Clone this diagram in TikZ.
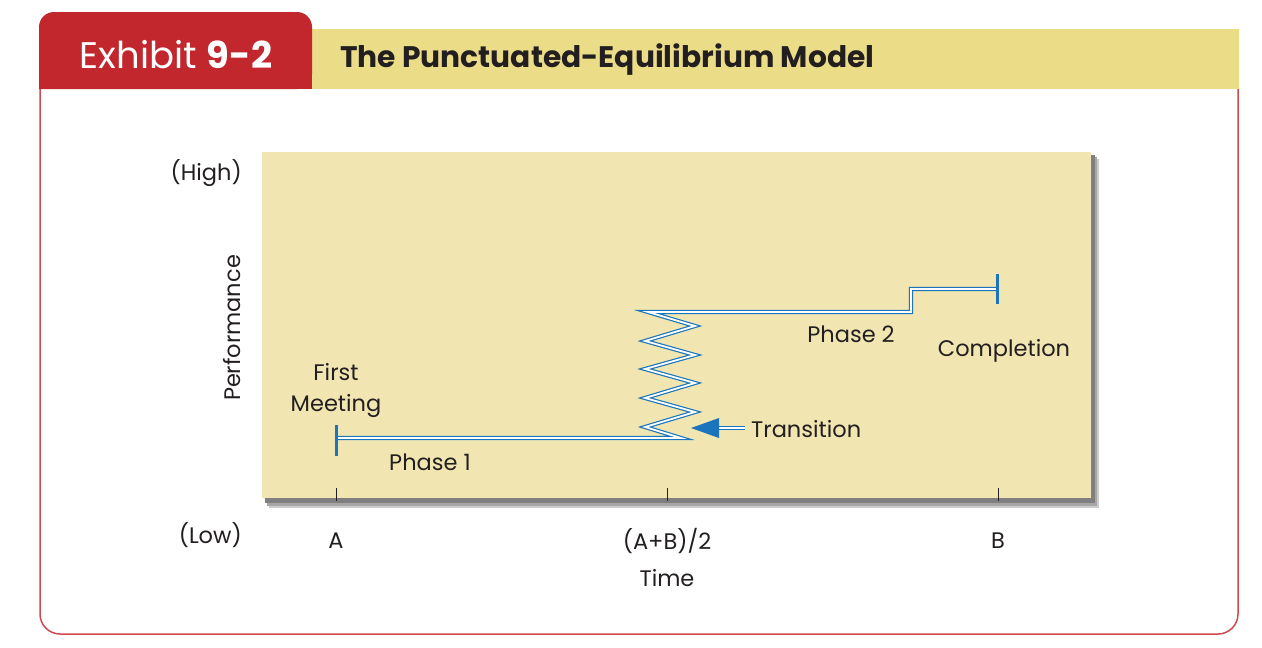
\documentclass[tikz,border=0pt]{standalone}
\usepackage{fontspec}
\setmainfont{Poppins}
\definecolor{tabred}{HTML}{C1272D}
\definecolor{framered}{HTML}{CF4A50}
\definecolor{headyel}{HTML}{EBDC87}
\definecolor{plotyel}{HTML}{F1E6B2}
\definecolor{lineblue}{HTML}{1B75BC}
\definecolor{ink}{HTML}{231F20}
\tikzset{
  lbl/.style={text=ink, font=\fontsize{22.5}{26}\selectfont, inner sep=0pt},
  dbl/.style={draw=lineblue, double=white, line width=1.2pt, double distance=1.8pt},
  endbar/.style={draw=lineblue, line width=3pt},
  tick/.style={draw=ink, line width=1pt}
}
\begin{document}
\begin{tikzpicture}[x=1pt,y=-1pt]
\useasboundingbox (0,0) rectangle (1262,648);
% frame
\draw[framered, line width=1.5pt, rounded corners=20pt] (40,80) -- (40,634) -- (1238,634) -- (1238,80);
% header
\fill[headyel] (312,29) rectangle (1239,89);
\fill[tabred, rounded corners=15pt] (39,89) -- (39,12) -- (312,12) -- (312,89) [sharp corners] -- cycle;
\fill[tabred] (39,70) rectangle (312,89);
\node[text=white, font=\fontsize{37}{40}\selectfont, inner sep=0pt] (exh) at (176,55) {Exhibit \textbf{9-2}};
\node[text=ink, font=\bfseries\fontsize{29.7}{32}\selectfont, inner sep=0pt, anchor=west] (title) at (340,60) {The Punctuated-Equilibrium Model};
% plot area with shadow
\fill[black!20] (269,159) rectangle (1099,508);
\fill[black!35] (267,157) rectangle (1097,506);
\fill[black!50] (265,155) rectangle (1095,503);
\fill[plotyel] (262,152) rectangle (1091,498);
% ticks
\foreach \x/\n in {336/ta,667/tm,998/tb}{
  \coordinate (\n top) at (\x,488);
  \coordinate (\n bot) at (\x,501);
  \draw[tick] (\n top) -- (\n bot);
}
% axis labels
\node[lbl, anchor=east] (high) at (242,173) {(High)};
\node[lbl, anchor=east] (low) at (242,535) {(Low)};
\node[lbl, rotate=90] (perf) at (232,328) {Performance};
\node[lbl] (la) at (336,541) {A};
\node[lbl] (lm) at (667,541) {(A+B)/2};
\node[lbl] (lb) at (998,541) {B};
\node[lbl] (time) at (667,578) {Time};
% curve
\coordinate (p0) at (337,438);
\coordinate (p1) at (681,438);
\coordinate (z1) at (645,427);
\coordinate (z2) at (695,412);
\coordinate (z3) at (645,398);
\coordinate (z4) at (695,383);
\coordinate (z5) at (645,369);
\coordinate (z6) at (695,355);
\coordinate (z7) at (645,341);
\coordinate (z8) at (695,326);
\coordinate (z9) at (648,312);
\coordinate (s1) at (911,312);
\coordinate (s2) at (911,289);
\coordinate (p2) at (997,289);
\draw[dbl] (p0) -- (p1) -- (z1) -- (z2) -- (z3) -- (z4) -- (z5) -- (z6) -- (z7) -- (z8) -- (z9) -- (s1) -- (s2) -- (p2);
\coordinate (ba1) at (336,425);
\coordinate (ba2) at (336,456);
\draw[endbar] (ba1) -- (ba2);
\coordinate (bb1) at (997,274);
\coordinate (bb2) at (997,304);
\draw[endbar] (bb1) -- (bb2);
% transition arrow
\coordinate (tip) at (691,428);
\coordinate (tb1) at (719,418);
\coordinate (tb2) at (719,438);
\coordinate (tbase) at (718,428);
\coordinate (tend) at (745,428);
\draw[dbl] (tbase) -- (tend);
\fill[lineblue] (tip) -- (tb1) -- (tb2) -- cycle;
% labels
\node[lbl, anchor=west] (trans) at (751,429) {Transition};
\node[lbl] (first) at (336,372) {First};
\node[lbl] (meet) at (336,406) {Meeting};
\node[lbl] (ph1) at (430,462) {Phase 1};
\node[lbl] (ph2) at (851,334) {Phase 2};
\node[lbl] (comp) at (1004,351) {Completion};
\end{tikzpicture}
\end{document}
